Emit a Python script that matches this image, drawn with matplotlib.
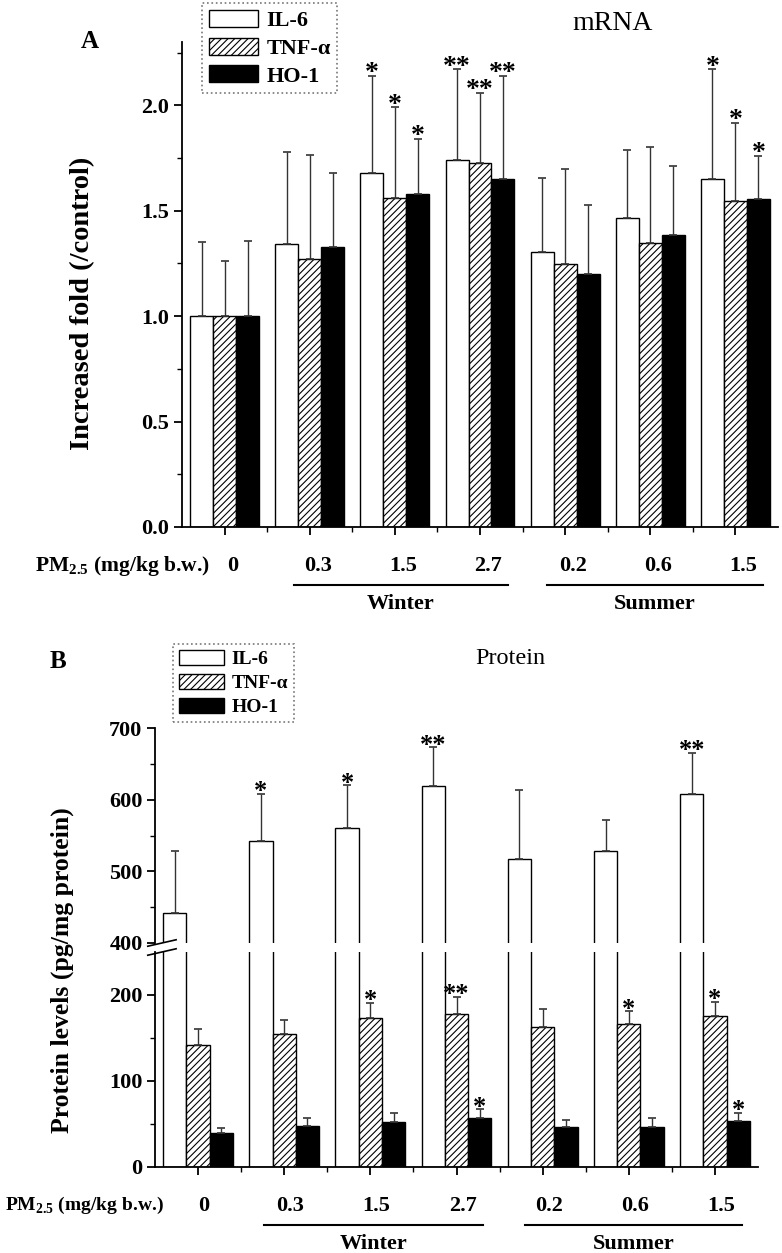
import numpy as np
import matplotlib
matplotlib.use("Agg")
import matplotlib.pyplot as plt
import matplotlib.transforms as mtransforms
from matplotlib.patches import Patch

plt.rcParams['font.family'] = ['Liberation Serif', 'DejaVu Serif']
plt.rcParams['mathtext.fontset'] = 'custom'
plt.rcParams['mathtext.rm'] = 'Liberation Serif'
plt.rcParams['mathtext.bf'] = 'Liberation Serif:bold'
plt.rcParams['hatch.linewidth'] = 0.8

doses = ["0", "0.3", "1.5", "2.7", "0.2", "0.6", "1.5"]
markers = ["IL-6", "TNF-α", "HO-1"]

# panel A: mRNA fold change (mean, upper error end)
mrna_il6 = [1.00, 1.34, 1.68, 1.74, 1.305, 1.465, 1.65]
mrna_il6_top = [1.35, 1.78, 2.14, 2.17, 1.655, 1.79, 2.17]
mrna_tnf = [1.00, 1.27, 1.56, 1.725, 1.245, 1.345, 1.545]
mrna_tnf_top = [1.26, 1.765, 1.99, 2.06, 1.70, 1.80, 1.915]
mrna_ho1 = [1.00, 1.33, 1.58, 1.65, 1.20, 1.385, 1.555]
mrna_ho1_top = [1.355, 1.68, 1.84, 2.14, 1.525, 1.71, 1.76]
mrna_sig = [["", "", ""], ["", "", ""], ["*", "*", "*"], ["**", "**", "**"],
            ["", "", ""], ["", "", ""], ["*", "*", "*"]]

# panel B: protein levels (pg/mg protein)
prot_il6 = [442, 542, 560, 619, 517, 528, 608]
prot_il6_top = [528, 608, 620, 673, 613, 571, 665]
prot_tnf = [142, 155, 173, 178, 163, 166, 176]
prot_tnf_top = [161, 171, 191, 198, 184, 181, 192]
prot_ho1 = [40, 48, 52, 57, 46, 47, 53]
prot_ho1_top = [45, 57, 63, 67, 55, 57, 63]
prot_sig = [["", "", ""], ["*", "", ""], ["*", "*", ""], ["**", "**", "*"],
            ["", "", ""], ["", "*", ""], ["**", "*", "*"]]

W = 0.27
offsets = [-W, 0, W]
styles = [dict(facecolor="white", hatch=None),
          dict(facecolor="white", hatch="/////"),
          dict(facecolor="black", hatch=None)]

fig = plt.figure(figsize=(7.82, 12.53), dpi=100)
x = np.arange(len(doses))


def add_star(ax, s, xx, yy, size):
    ax.annotate(s, (xx, yy), xytext=(0, -3), textcoords="offset points",
                ha="center", va="baseline", fontsize=size, fontweight="bold",
                clip_on=False)


def draw_bars(ax, series, tops, sig=None, star_size=20):
    for k, (vals, top) in enumerate(zip(series, tops)):
        vals = np.array(vals, float)
        top = np.array(top, float)
        ax.bar(x + offsets[k], vals, W, edgecolor="black", linewidth=1.0,
               **styles[k], zorder=2)
        ax.errorbar(x + offsets[k], vals, yerr=[np.zeros_like(vals), top - vals],
                    fmt="none", ecolor="#333333", elinewidth=1.0, capsize=3,
                    capthick=1.2, zorder=3)
        if sig is not None:
            for i in range(len(vals)):
                if sig[i][k]:
                    add_star(ax, sig[i][k], x[i] + offsets[k], top[i], star_size)


def style_y(ax):
    ax.spines["top"].set_visible(False)
    ax.spines["right"].set_visible(False)
    for s in ax.spines.values():
        s.set_linewidth(1.3)
    ax.tick_params(axis="y", which="major", direction="out", length=6, width=1.3,
                   labelsize=16, pad=3)
    ax.tick_params(axis="y", which="minor", direction="out", length=3.5, width=1.0)
    for lab in ax.get_yticklabels():
        lab.set_fontweight("bold")


def style_x(ax, shift):
    ax.set_xlim(-0.5, 6.5)
    ax.set_xticks(x)
    ax.set_xticks(x[:-1] + 0.5, minor=True)
    ax.set_xticklabels(doses, fontsize=16, fontweight="bold")
    ax.tick_params(axis="x", which="major", direction="out", length=6, width=1.3, pad=15)
    ax.tick_params(axis="x", which="minor", direction="out", length=3.5, width=1.0)
    off = mtransforms.ScaledTranslation(shift / 100.0, 0, fig.dpi_scale_trans)
    for lab in ax.get_xticklabels():
        lab.set_transform(lab.get_transform() + off)


def season_marks(ax, wx, sx, line_y, text_y):
    tr = mtransforms.blended_transform_factory(ax.transData, fig.transFigure)
    for (a, b), name in zip([wx, sx], ["Winter", "Summer"]):
        ax.plot([a, b], [line_y, line_y], color="black", lw=1.5, transform=tr,
                clip_on=False)
        ax.text((a + b) / 2, text_y, name, transform=tr, ha="center", va="top",
                fontsize=16, fontweight="bold")


def make_legend(loc_xy, fsize, hlen, hh, spacing):
    handles = [Patch(facecolor="white", edgecolor="black", linewidth=1.0),
               Patch(facecolor="white", edgecolor="black", hatch="/////", linewidth=1.0),
               Patch(facecolor="black", edgecolor="black", linewidth=1.0)]
    leg = fig.legend(handles, markers, loc="upper left", bbox_to_anchor=loc_xy,
                     fancybox=False, framealpha=1, edgecolor="#777777",
                     prop=dict(family="Liberation Serif", weight="bold", size=fsize),
                     handlelength=hlen, handleheight=hh, labelspacing=spacing,
                     handletextpad=0.4, borderpad=0.3, borderaxespad=0)
    leg.get_frame().set_linestyle(":")
    leg.get_frame().set_linewidth(1.2)
    return leg


# ---------------- Panel A ----------------
axA = fig.add_axes([182 / 782, 1 - 527 / 1253, 596 / 782, 485 / 1253])
draw_bars(axA, [mrna_il6, mrna_tnf, mrna_ho1],
          [mrna_il6_top, mrna_tnf_top, mrna_ho1_top], mrna_sig)
axA.set_ylim(0, 2.3)
axA.set_yticks(np.arange(0, 2.01, 0.5))
axA.set_yticks(np.arange(0.25, 2.3, 0.5), minor=True)
axA.set_yticklabels(["0.0", "0.5", "1.0", "1.5", "2.0"])
style_y(axA)
style_x(axA, 8)
fig.text(83 / 782, 1 - 303 / 1253, "Increased fold (/control)", fontsize=20.5,
         fontweight="bold", rotation=90, ha="center", va="center")
fig.text(90 / 782, 1 - 41 / 1253, "A", fontsize=18, fontweight="bold", ha="center", va="center")
fig.text(613 / 782, 1 - 24 / 1253, "mRNA", fontsize=20, ha="center", va="center")
fig.text(35 / 782, 1 - 566 / 1253, r"PM$_{\mathbf{2.5}}$ (mg/kg b.w.)", fontsize=15.5,
         fontweight="bold", ha="left", va="center")
season_marks(axA, (0.81, 3.33), (3.79, 6.32), 1 - 585 / 1253, 1 - 594 / 1253)
make_legend((202 / 782, 1 - 3 / 1253), 16, 2.2, 0.8, 0.3)

# ---------------- Panel B ----------------
axBt = fig.add_axes([155 / 782, 1 - 943 / 1253, 603 / 782, 215 / 1253])
axBb = fig.add_axes([155 / 782, 1 - 1167 / 1253, 603 / 782, 215 / 1253])
for ax in (axBt, axBb):
    draw_bars(ax, [prot_il6, prot_tnf, prot_ho1],
              [prot_il6_top, prot_tnf_top, prot_ho1_top],
              prot_sig if ax is axBb else None, star_size=19)

# stars for the upper section (IL-6 only)
for i in range(len(doses)):
    if prot_sig[i][0]:
        add_star(axBt, prot_sig[i][0], x[i] + offsets[0], prot_il6_top[i], 19)

axBt.set_xlim(-0.5, 6.5)
axBt.set_ylim(400, 700)
axBt.set_yticks([400, 500, 600, 700])
axBt.set_yticks([450, 550, 650], minor=True)
style_y(axBt)
axBt.spines["bottom"].set_visible(False)
axBt.tick_params(axis="x", which="both", bottom=False, labelbottom=False)

axBb.set_ylim(0, 250)
axBb.set_yticks([0, 100, 200])
axBb.set_yticks([50, 150], minor=True)
style_y(axBb)
style_x(axBb, 6)

# break marks on the y axis
for ax, yy in ((axBt, 0.0), (axBb, 1.0)):
    ax.plot([-0.012, 0.035], [yy - 0.015, yy + 0.015], transform=ax.transAxes,
            color="black", lw=1.2, clip_on=False)

fig.text(62 / 782, 1 - 970 / 1253, "Protein levels (pg/mg protein)", fontsize=18.5,
         fontweight="bold", rotation=90, ha="center", va="center")
fig.text(58 / 782, 1 - 661 / 1253, "B", fontsize=18, fontweight="bold", ha="center", va="center")
fig.text(510 / 782, 1 - 658 / 1253, "Protein", fontsize=17.5, ha="center", va="center")
fig.text(5 / 782, 1 - 1205 / 1253, r"PM$_{\mathbf{2.5}}$ (mg/kg b.w.)", fontsize=14,
         fontweight="bold", ha="left", va="center")
season_marks(axBb, (0.77, 3.31), (3.79, 6.32), 1 - 1225 / 1253, 1 - 1234 / 1253)
make_legend((173 / 782, 1 - 644 / 1253), 14, 2.3, 0.8, 0.3)

fig.savefig("out.png", dpi=100)
